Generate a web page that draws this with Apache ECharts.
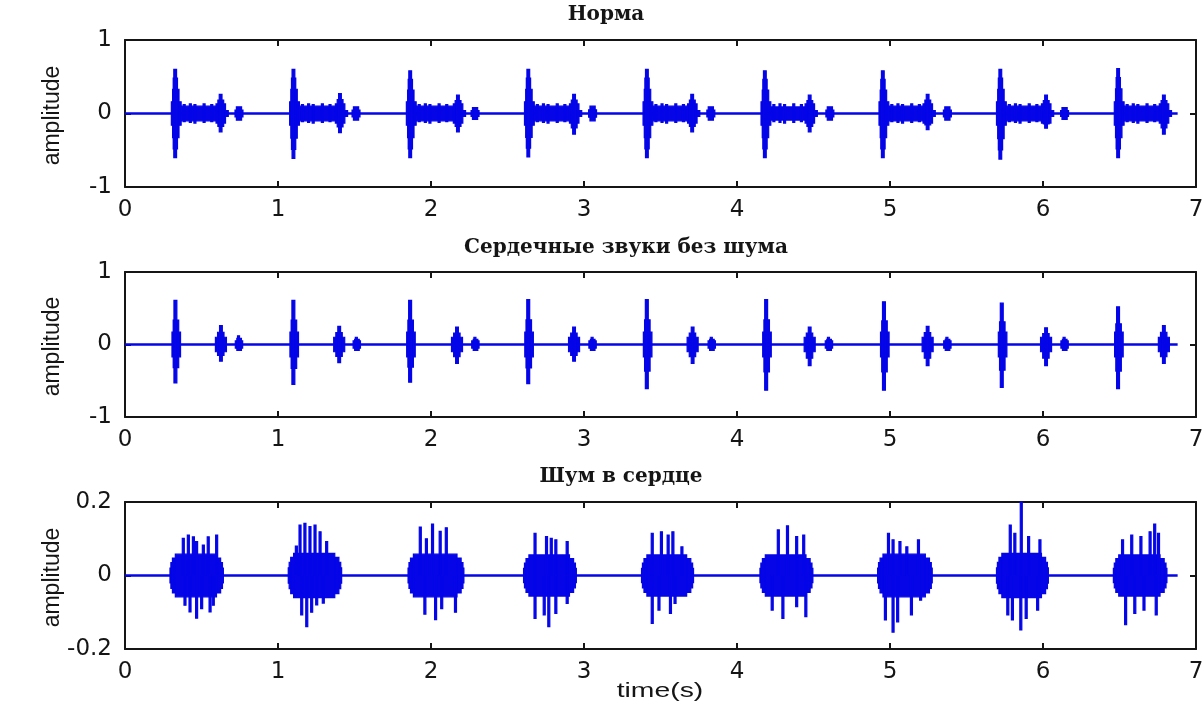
<!DOCTYPE html>
<html><head><meta charset="utf-8">
<script src="https://cdn.jsdelivr.net/npm/echarts@6/dist/echarts.min.js"></script>
<style>html,body{margin:0;padding:0;background:#fff}#c{width:1204px;height:715px}</style>
</head><body><div id="c"></div>
<script>
// ---------- text ----------
const panelTitles = ['Норма', 'Сердечные звуки без шума', 'Шум в сердце'];
const yName = 'amplitude';
const xName = 'time(s)';
const xRange = [0, 7];
const yRanges = [[-1, 1, 1], [-1, 1, 1], [-0.2, 0.2, 0.2]];
const signalEnd = 6.88;

// ---------- panel 1: Норма ----------
const normaS1   = [0.327, 1.100, 1.863, 2.635, 3.410, 4.181, 4.952, 5.720, 6.490];
const normaS1Hi = [0.60, 0.60, 0.58, 0.60, 0.60, 0.58, 0.58, 0.60, 0.61];
const normaS1Lo = [-0.60, -0.61, -0.60, -0.59, -0.60, -0.60, -0.60, -0.62, -0.60];
const normaS2   = [0.625, 1.405, 2.176, 2.935, 3.707, 4.475, 5.246, 6.020, 6.790];
const normaS2Hi = [0.26, 0.27, 0.25, 0.26, 0.26, 0.25, 0.26, 0.25, 0.25];
const normaS2Lo = [-0.25, -0.26, -0.25, -0.28, -0.25, -0.25, -0.22, -0.20, -0.28];
const normaBand = [0.10, 0.10, 0.10, 0.10, 0.10, 0.09, 0.10, 0.10, 0.10];
const normaBumps = [[0.06, 0.12, -0.11], [0.10, 0.13, -0.12], [0.13, 0.12, -0.13], [0.19, 0.13, -0.12], [0.24, 0.12, -0.11]];
const normaBlip    = [0.745, 1.510, 2.288, 3.056, 3.829, 4.607, 5.375, 6.141];
const normaBlipAmp = [0.09, 0.09, 0.08, 0.10, 0.09, 0.09, 0.09, 0.08];

// ---------- panel 2: без шума ----------
const cleanS1   = [0.329, 1.100, 1.863, 2.635, 3.410, 4.190, 4.960, 5.730, 6.490];
const cleanS1Hi = [0.61, 0.61, 0.61, 0.62, 0.62, 0.62, 0.59, 0.57, 0.52];
const cleanS1Lo = [-0.53, -0.55, -0.52, -0.54, -0.61, -0.63, -0.63, -0.59, -0.61];
const cleanS2   = [0.627, 1.400, 2.170, 2.935, 3.710, 4.475, 5.246, 6.020, 6.790];
const cleanS2Hi = [0.26, 0.25, 0.24, 0.24, 0.24, 0.24, 0.25, 0.23, 0.26];
const cleanS2Lo = [-0.23, -0.25, -0.26, -0.23, -0.26, -0.29, -0.29, -0.29, -0.26];
const cleanBlip   = [0.745, 1.515, 2.290, 3.056, 3.835, 4.601, 5.375, 6.141];
const cleanBlipHi = [0.12, 0.10, 0.10, 0.10, 0.10, 0.10, 0.10, 0.10];
const cleanBlipLo = [-0.08, -0.08, -0.08, -0.08, -0.08, -0.08, -0.08, -0.08];

// ---------- panel 3: шум ----------
const murmurStart = [0.294, 1.067, 1.850, 2.605, 3.376, 4.150, 4.919, 5.696, 6.460];
const murmurEnd   = [0.643, 1.416, 2.215, 2.950, 3.716, 4.496, 5.276, 6.035, 6.810];
const murmurCore  = [0.058, 0.060, 0.058, 0.056, 0.056, 0.056, 0.058, 0.060, 0.056];
const murmurUp = [
  [0.381,0.101],[0.414,0.110],[0.447,0.105],[0.468,0.092],[0.512,0.083],[0.544,0.105],[0.599,0.110],
  [1.120,0.080],[1.144,0.137],[1.176,0.142],[1.209,0.133],[1.242,0.137],[1.275,0.119],[1.318,0.092],
  [1.930,0.132],[1.970,0.100],[2.010,0.140],[2.060,0.120],[2.100,0.130],
  [2.680,0.115],[2.755,0.106],[2.786,0.101],[2.816,0.097],[2.890,0.092],
  [3.446,0.115],[3.506,0.119],[3.550,0.110],[3.581,0.119],[3.640,0.078],
  [4.270,0.124],[4.330,0.135],[4.390,0.106],[4.436,0.110],
  [4.990,0.115],[5.020,0.097],[5.065,0.092],[5.110,0.078],[5.186,0.097],
  [5.786,0.137],[5.816,0.115],[5.858,0.200],[5.906,0.106],[5.980,0.097],
  [6.520,0.097],[6.580,0.110],[6.640,0.106],[6.700,0.119],[6.730,0.140],[6.755,0.115]
];
const murmurDown = [
  [0.392,-0.081],[0.425,-0.099],[0.468,-0.116],[0.501,-0.090],[0.556,-0.099],[0.577,-0.081],
  [1.155,-0.107],[1.188,-0.139],[1.220,-0.100],[1.253,-0.080],[1.296,-0.075],
  [1.960,-0.105],[2.030,-0.120],[2.070,-0.090],[2.160,-0.100],
  [2.680,-0.117],[2.740,-0.107],[2.770,-0.139],[2.816,-0.103],[2.890,-0.076],
  [3.446,-0.130],[3.490,-0.094],[3.565,-0.103],[3.595,-0.076],
  [4.230,-0.094],[4.300,-0.117],[4.390,-0.085],[4.450,-0.112],
  [4.970,-0.121],[5.020,-0.154],[5.050,-0.126],[5.140,-0.107],[5.200,-0.067],
  [5.770,-0.107],[5.800,-0.121],[5.855,-0.148],[5.890,-0.117],[5.965,-0.094],
  [6.540,-0.134],[6.600,-0.103],[6.660,-0.094],[6.740,-0.107]
];

// ---------- build segment marks [t0, t1, hi, lo] ----------
function normaSegs() {
  const out = [];
  normaS1.forEach((c, i) => {
    const h = normaS1Hi[i], l = normaS1Lo[i], s2 = normaS2[i], b = normaBand[i];
    out.push([c - 0.024, c + 0.04, 0.16, -0.16], [c - 0.016, c + 0.026, h * 0.55, l * 0.55],
             [c - 0.012, c + 0.016, h * 0.8, l * 0.8], [c - 0.008, c + 0.010, h, l]);
    out.push([c + 0.04, s2 - 0.02, b, -b]);
    normaBumps.forEach(([dt, u, d]) => out.push([c + dt - 0.005, c + dt + 0.005, u, d]));
    out.push([s2 - 0.03, s2 + 0.032, 0.13, -0.13],
             [s2 - 0.018, s2 + 0.02, normaS2Hi[i] * 0.7, normaS2Lo[i] * 0.7],
             [s2 - 0.009, s2 + 0.009, normaS2Hi[i], normaS2Lo[i]],
             [s2 + 0.032, s2 + 0.05, 0.04, -0.04]);
  });
  normaBlip.forEach((b, i) => {
    const a = normaBlipAmp[i];
    out.push([b - 0.026, b + 0.026, a * 0.5, -a * 0.5], [b - 0.017, b + 0.017, a, -a]);
  });
  return out;
}
function cleanSegs() {
  const out = [];
  cleanS1.forEach((c, i) => {
    const h = cleanS1Hi[i], l = cleanS1Lo[i], s2 = cleanS2[i];
    out.push([c - 0.022, c + 0.034, 0.17, -0.17], [c - 0.014, c + 0.022, h * 0.55, l * 0.6],
             [c - 0.009, c + 0.010, h, l]);
    out.push([s2 - 0.036, s2 + 0.036, 0.10, -0.10],
             [s2 - 0.022, s2 + 0.02, cleanS2Hi[i] * 0.65, cleanS2Lo[i] * 0.65],
             [s2 - 0.009, s2 + 0.009, cleanS2Hi[i], cleanS2Lo[i]]);
  });
  cleanBlip.forEach((b, i) => {
    out.push([b - 0.024, b + 0.024, 0.05, -0.05], [b - 0.014, b + 0.016, cleanBlipHi[i] * 0.7, cleanBlipLo[i]],
             [b - 0.009, b + 0.003, cleanBlipHi[i], cleanBlipLo[i] * 0.7]);
  });
  return out;
}
function murmurSegs() {
  const out = [];
  murmurStart.forEach((s, i) => {
    const e = murmurEnd[i], a = murmurCore[i];
    out.push([s, e, a * 0.35, -a * 0.35], [s + 0.006, e - 0.006, a * 0.6, -a * 0.6],
             [s + 0.016, e - 0.018, a * 0.82, -a * 0.82], [s + 0.035, e - 0.045, a, -a]);
  });
  murmurUp.forEach(([t, v]) => out.push([t - 0.003, t + 0.003, v, 0]));
  murmurDown.forEach(([t, v]) => out.push([t - 0.003, t + 0.003, 0, v]));
  return out;
}

const BLUE = '#0505e8';
const INK = '#151515';
const segSets = [normaSegs(), cleanSegs(), murmurSegs()];
const grids = [
  { left: 125, top: 40, width: 1071, height: 147 },
  { left: 125, top: 272, width: 1071, height: 145 },
  { left: 125, top: 502, width: 1071, height: 147 }
];

function renderSeg(params, api) {
  const p1 = api.coord([api.value(0), api.value(2)]);
  const p2 = api.coord([api.value(1), api.value(3)]);
  const w = Math.max(p2[0] - p1[0], 2);
  const x = (p1[0] + p2[0]) / 2 - w / 2;
  return { type: 'rect', shape: { x: x, y: p1[1], width: w, height: Math.max(p2[1] - p1[1], 1) },
           style: { fill: BLUE, stroke: BLUE, lineWidth: 1.2 } };
}

const xAxes = [], yAxes = [], series = [];
grids.forEach((g, i) => {
  g.outerBoundsMode = 'none';
  g.containLabel = false;
  const axLine = { show: true, onZero: false, lineStyle: { color: INK, width: 2 } };
  const tick = { show: true, inside: true, length: 6, lineStyle: { color: INK, width: 2 } };
  const lab = { show: true, fontFamily: 'DejaVu Sans', fontSize: 23, color: INK, margin: 12 };
  xAxes.push({ type: 'value', gridIndex: i, min: xRange[0], max: xRange[1], interval: 1, position: 'bottom',
               axisLine: axLine, axisTick: tick, axisLabel: lab, splitLine: { show: false } });
  xAxes.push({ type: 'value', gridIndex: i, min: xRange[0], max: xRange[1], interval: 1, position: 'top',
               axisLine: axLine, axisTick: tick, axisLabel: { show: false }, splitLine: { show: false } });
  const yr = yRanges[i];
  yAxes.push({ type: 'value', gridIndex: i, min: yr[0], max: yr[1], interval: yr[2], position: 'left',
               axisLine: axLine, axisTick: tick, axisLabel: Object.assign({}, lab, { margin: 13 }), splitLine: { show: false } });
  yAxes.push({ type: 'value', gridIndex: i, min: yr[0], max: yr[1], interval: yr[2], position: 'right',
               axisLine: axLine, axisTick: tick, axisLabel: { show: false }, splitLine: { show: false } });
  series.push({ type: 'line', xAxisIndex: 2 * i, yAxisIndex: 2 * i, data: [[0, 0], [signalEnd, 0]],
                symbol: 'none', lineStyle: { color: BLUE, width: 2.5 }, silent: true, z: 2 });
  series.push({ type: 'custom', xAxisIndex: 2 * i, yAxisIndex: 2 * i, data: segSets[i],
                encode: { x: [0, 1], y: [2, 3] }, renderItem: renderSeg, silent: true, z: 3 });
});

const titlePos = [[606, 15], [626, 248], [621, 477]];
const graphic = [];
panelTitles.forEach((t, i) => graphic.push({ type: 'text', x: titlePos[i][0], y: titlePos[i][1], silent: true,
  style: { text: t, fill: INK, font: 'bold 20px "DejaVu Serif"', textAlign: 'center', textVerticalAlign: 'middle' } }));
grids.forEach((g, i) => graphic.push({ type: 'text', x: 53, y: g.top + g.height / 2 + 2, rotation: Math.PI / 2, silent: true,
  style: { text: yName, fill: INK, font: '23px "Liberation Sans"', textAlign: 'center', textVerticalAlign: 'middle' } }));
graphic.push({ type: 'text', x: 660, y: 691, scaleX: 1.35, silent: true,
  style: { text: xName, fill: INK, font: '21px "Liberation Sans"', textAlign: 'center', textVerticalAlign: 'middle' } });

const chart = echarts.init(document.getElementById('c'), null, { renderer: 'canvas' });
chart.setOption({
  animation: false,
  backgroundColor: '#ffffff',
  grid: grids,
  xAxis: xAxes,
  yAxis: yAxes,
  series: series,
  graphic: graphic
});
</script></body></html>
